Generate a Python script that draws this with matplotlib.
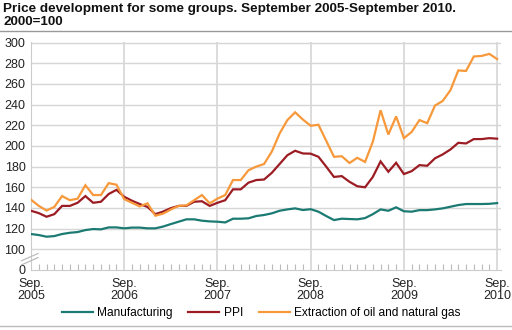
import numpy as np
import matplotlib
matplotlib.use('Agg')
import matplotlib.pyplot as plt

plt.rcParams['font.family'] = ['Liberation Sans', 'DejaVu Sans']

TITLE = 'Price development for some groups. September 2005-September 2010.\n2000=100'

# monthly index values, Sep 2005 .. Sep 2010
MANUFACTURING = [114.8, 113.8, 112.2, 112.8, 114.8, 116.0, 116.7, 118.6, 119.6, 119.3,
                 121.2, 121.2, 120.3, 121.0, 121.0, 120.3, 120.3, 122.0, 124.4, 126.7,
                 129.0, 129.0, 127.7, 127.0, 126.7, 126.0, 129.6, 129.6, 130.0, 132.2,
                 133.2, 134.8, 137.3, 138.6, 139.6, 138.0, 138.8, 136.4, 132.2, 128.3,
                 129.6, 129.3, 129.0, 130.2, 134.0, 138.6, 137.3, 140.6, 136.8, 136.4,
                 137.9, 137.9, 138.6, 139.6, 141.2, 142.8, 143.8, 143.8, 143.8, 144.0,
                 144.7]
PPI = [137.3, 135.0, 131.5, 134.0, 142.0, 142.0, 145.0, 151.5, 145.0, 146.0,
       153.5, 157.5, 150.8, 147.0, 143.8, 141.0, 134.0, 136.5, 139.8, 142.0,
       142.0, 146.0, 146.5, 142.0, 145.0, 147.5, 158.0, 158.0, 164.5, 167.0,
       167.5, 174.0, 182.5, 191.0, 195.3, 192.7, 192.5, 189.5, 180.0, 170.0,
       170.8, 165.3, 161.0, 160.0, 170.0, 185.0, 175.0, 183.7, 172.8, 175.6,
       181.4, 180.8, 188.0, 191.8, 196.6, 203.0, 202.4, 206.6, 206.6, 207.5,
       207.0]
OIL_GAS = [148.0, 142.0, 137.5, 141.0, 151.5, 147.5, 149.0, 162.0, 152.5, 152.5,
           164.0, 162.5, 148.5, 145.0, 141.5, 144.5, 132.5, 134.5, 138.5, 142.0,
           142.5, 147.5, 152.5, 144.5, 149.0, 152.5, 167.0, 167.0, 176.5, 180.0,
           182.5, 194.5, 212.0, 225.0, 232.5, 225.5, 219.5, 220.5, 205.0, 189.5,
           190.0, 183.5, 188.5, 184.5, 204.0, 234.5, 211.0, 228.5, 207.5, 213.5,
           225.0, 222.0, 239.0, 243.5, 254.0, 273.0, 272.5, 286.5, 287.0, 289.0,
           284.0]

SERIES_NAMES = ['Manufacturing', 'PPI', 'Extraction of oil and natural gas']
SERIES_COLORS = ['#1b7b73', '#9c1c24', '#f7993a']
YEAR_LABELS = ['Sep.\n2005', 'Sep.\n2006', 'Sep.\n2007', 'Sep.\n2008', 'Sep.\n2009', 'Sep.\n2010']
Y_TICKS = [0, 100, 120, 140, 160, 180, 200, 220, 240, 260, 280, 300]

GRID = '#d6d6d6'
BREAK = 80  # the axis jumps from 0 straight to 100


def squeeze(values):
    # values from 100 up sit 20 units above the zero line
    v = np.asarray(values, dtype=float)
    return np.where(v >= 100, v - BREAK, v * 20.0 / 100.0)


def main():
    fig = plt.figure(figsize=(5.12, 3.30), dpi=100)
    ax = fig.add_axes([31 / 512, 60 / 330, 470 / 512, 228 / 330])

    months = np.arange(len(MANUFACTURING))
    for vals, name, col in zip([MANUFACTURING, PPI, OIL_GAS], SERIES_NAMES, SERIES_COLORS):
        ax.plot(months, squeeze(vals), color=col, lw=1.6, label=name,
                solid_joinstyle='miter', zorder=3)

    ax.set_xlim(0, 60.5)
    ax.set_ylim(0, 220.5)

    ax.set_yticks(squeeze(Y_TICKS))
    ax.set_yticklabels([str(t) for t in Y_TICKS], fontsize=9, color='#222222')
    ax.set_xticks(np.arange(0, 61, 12))
    ax.set_xticklabels(YEAR_LABELS, fontsize=9, color='#222222', linespacing=0.95)
    ax.set_xticks(np.arange(0, 61), minor=True)
    ax.tick_params(axis='y', length=0, pad=4)
    ax.tick_params(axis='x', which='major', length=0, pad=6)
    ax.tick_params(axis='x', which='minor', direction='in', length=4, color='#bbbbbb', width=0.8)

    for t in squeeze(Y_TICKS[1:]):
        ax.axhline(t, color=GRID, lw=1, zorder=1)
    for x in range(12, 61, 12):
        ax.axvline(x, color=GRID, lw=1.2, zorder=1)

    for side in ['top', 'right']:
        ax.spines[side].set_visible(False)
    ax.spines['left'].set_color('#cccccc')
    ax.spines['bottom'].set_color('#cccccc')

    # break marks on the value axis
    for off in [0, 4]:
        ax.plot([-1.2, 0.9], np.array([5, 12]) + off, color='#bbbbbb', lw=0.9,
                clip_on=False, zorder=4)

    fig.text(0.006, 0.992, TITLE, fontsize=9.7, fontweight='bold', va='top', ha='left',
             linespacing=1.15, color='#111111')
    fig.add_artist(plt.Line2D([0, 1], [1 - 31 / 330] * 2, color='#999999', lw=1))
    fig.add_artist(plt.Line2D([0, 1], [1 - 326 / 330] * 2, color='#bbbbbb', lw=1))

    fig.legend(loc='center', bbox_to_anchor=(0.51, 1 - 313 / 330), ncol=3, frameon=False,
               fontsize=8.6, handlelength=2.6, columnspacing=1.3, handletextpad=0.35)

    fig.savefig('out.png', dpi=100)


if __name__ == '__main__':
    main()
